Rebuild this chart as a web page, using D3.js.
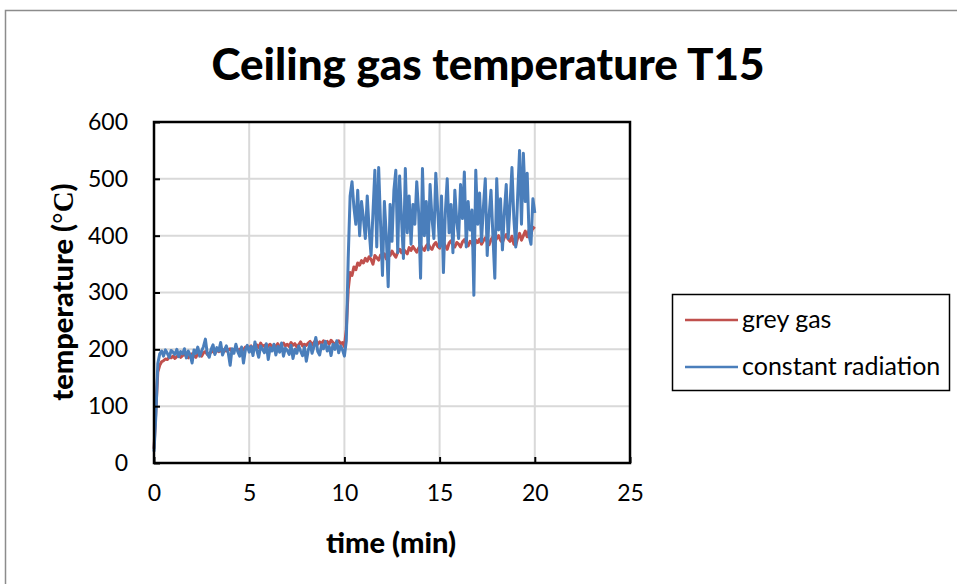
<!DOCTYPE html>
<html>
<head>
<meta charset="utf-8">
<script src="https://cdn.jsdelivr.net/npm/d3@7"></script>
<style>
  body { margin: 0; background: #fff; }
  svg { display: block; font-family: Lato, "Open Sans", sans-serif; }
</style>
</head>
<body>
<div id="chart"></div>
<script>
// sampled every 0.1 min, values in °C
const timeStep = 0.1;
const xTicks = [0, 5, 10, 15, 20, 25];
const yTicks = [0, 100, 200, 300, 400, 500, 600];
const seriesNames = ["grey gas", "constant radiation"];

const greyGas = [
  25, 95, 160, 172, 178, 180, 183, 182, 186, 185,
  188, 184, 187, 190, 186, 189, 191, 188, 185, 190,
  192, 189, 186, 193, 190, 188, 194, 196, 191, 193,
  195, 197, 193, 199, 196, 198, 195, 200, 197, 199,
  201, 196, 199, 203, 198, 200, 202, 199, 204, 201,
  203, 206, 200, 204, 208, 203, 211, 205, 207, 202,
  206, 209, 204, 207, 205, 210, 203, 208, 211, 206,
  209, 205, 212, 207, 210, 204, 208, 213, 206, 209,
  207, 211, 214, 208, 212, 216, 209, 213, 210, 215,
  211, 214, 209, 216, 212, 208, 213, 215, 210, 212,
  205, 235, 305, 335, 330, 345, 340, 352, 348, 356,
  352, 360, 355, 363, 358, 350, 365, 361, 357, 366,
  362, 368, 359, 370, 365, 373, 367, 362, 371, 376,
  370, 377, 372, 368, 379, 374, 381, 376, 371, 378,
  383, 377, 374, 382, 386, 379, 376, 384, 388, 381,
  378, 385, 389, 382, 376, 387, 391, 384, 380, 388,
  385, 380, 389, 393, 386, 382, 390, 387, 378, 392,
  388, 394, 385, 391, 396, 389, 384, 393, 398, 390,
  395, 400, 392, 388, 397, 402, 394, 390, 399, 385,
  383, 396, 404, 392, 400, 408, 398, 410, 403, 415,
  412
];

const constantRadiation = [
  20, 85, 175, 192, 197, 188, 199, 193, 186, 198,
  195, 191, 200, 187, 196, 192, 201, 185, 197, 190,
  176, 199, 193, 204, 188, 197, 205, 218, 192, 186,
  200, 208, 191, 203, 197, 212, 190, 199, 206, 194,
  172, 201, 193, 209, 196, 188, 204, 176, 199, 207,
  195, 205, 189, 213, 198, 186, 206, 200, 194, 210,
  182, 203, 197, 209, 190, 205, 195, 211, 188, 202,
  198, 191, 207, 184, 200, 193, 206, 197, 189, 204,
  179, 198, 210, 193, 205, 221, 196, 190, 208, 201,
  214, 197, 205, 189, 209, 200, 215, 194, 206, 199,
  188, 215, 360, 470, 495, 450, 420, 480, 400, 460,
  430, 395, 470, 410, 365, 440, 515, 380, 520, 420,
  330, 460, 400, 310, 455, 390, 480, 515, 370, 505,
  430, 360, 518, 405, 470, 385, 455, 420, 495, 440,
  325, 518, 400, 460, 375, 490, 430, 395, 510, 445,
  380, 470, 335, 440, 500, 405, 455, 370, 480, 425,
  395, 490, 430, 512, 380, 460, 410, 445, 295, 515,
  420, 475, 390, 450, 500, 365, 435, 480, 400, 325,
  500, 410, 465, 375, 440, 490, 395, 455, 520, 430,
  380, 470, 550, 420, 545, 460, 510, 400, 385, 465,
  440
];

const width = 957, height = 584;
const plot = { left: 154, top: 122, right: 630, bottom: 463 };
const colors = ["#c0504d", "#4a7ebb"];

const svg = d3.select("#chart").append("svg")
  .attr("width", width)
  .attr("height", height);

// outer chart frame (runs off the right and bottom edge)
svg.append("rect")
  .attr("x", 5.5).attr("y", 10.5)
  .attr("width", 1000).attr("height", 1000)
  .attr("fill", "none")
  .attr("stroke", "#8c8c8c")
  .attr("stroke-width", 1.5);

const x = d3.scaleLinear().domain([0, 25]).range([plot.left, plot.right]);
const y = d3.scaleLinear().domain([0, 600]).range([plot.bottom, plot.top]);

// gridlines
svg.append("g").selectAll("line")
  .data(yTicks.slice(1, -1))
  .enter().append("line")
  .attr("x1", plot.left).attr("x2", plot.right)
  .attr("y1", d => y(d)).attr("y2", d => y(d))
  .attr("stroke", "#d9d9d9").attr("stroke-width", 2);

svg.append("g").selectAll("line")
  .data(xTicks.slice(1, -1))
  .enter().append("line")
  .attr("y1", plot.top).attr("y2", plot.bottom)
  .attr("x1", d => x(d)).attr("x2", d => x(d))
  .attr("stroke", "#d9d9d9").attr("stroke-width", 2);

// series
const line = d3.line()
  .x((d, i) => x(i * timeStep))
  .y(d => y(d));

[greyGas, constantRadiation].forEach((s, k) => {
  svg.append("path")
    .datum(s)
    .attr("d", line)
    .attr("fill", "none")
    .attr("stroke", colors[k])
    .attr("stroke-width", 3)
    .attr("stroke-linejoin", "round");
});

// axes (ticks point inward)
const xAxis = svg.append("g")
  .attr("transform", `translate(0,${plot.bottom})`)
  .call(d3.axisBottom(x).tickValues(xTicks).tickSize(-6).tickPadding(22));
const yAxis = svg.append("g")
  .attr("transform", `translate(${plot.left},0)`)
  .call(d3.axisLeft(y).tickValues(yTicks).tickSize(-6).tickPadding(26));

[xAxis, yAxis].forEach(g => {
  g.select(".domain").remove();
  g.selectAll(".tick line").attr("stroke", "#000").attr("stroke-width", 2);
  g.selectAll(".tick text")
    .attr("fill", "#000")
    .style("font-family", "Lato, sans-serif")
    .style("font-size", "23px");
});

// plot frame
svg.append("rect")
  .attr("x", plot.left).attr("y", plot.top)
  .attr("width", plot.right - plot.left)
  .attr("height", plot.bottom - plot.top)
  .attr("fill", "none")
  .attr("stroke", "#000")
  .attr("stroke-width", 2.5);

// title
svg.append("text")
  .attr("x", 488).attr("y", 80)
  .attr("text-anchor", "middle")
  .style("font-size", "44px")
  .style("font-weight", "900")
  .text("Ceiling gas temperature T15");

// axis titles
svg.append("text")
  .attr("x", 391).attr("y", 553)
  .attr("text-anchor", "middle")
  .style("font-size", "29px")
  .style("font-weight", "900")
  .text("time (min)");

const yTitle = svg.append("text")
  .attr("transform", "translate(73,292) rotate(-90)")
  .attr("text-anchor", "middle")
  .style("font-size", "29px")
  .style("font-weight", "900");
yTitle.append("tspan").text("temperature (");
yTitle.append("tspan").style("font-family", "Liberation Serif, serif").style("font-weight", "bold").text("°C");
yTitle.append("tspan").text(")");

// legend
const legend = svg.append("g");
legend.append("rect")
  .attr("x", 672.5).attr("y", 294.5)
  .attr("width", 277).attr("height", 96)
  .attr("fill", "#fff")
  .attr("stroke", "#000")
  .attr("stroke-width", 1.5);

seriesNames.forEach((name, i) => {
  const ly = 320 + i * 47;
  legend.append("line")
    .attr("x1", 685).attr("x2", 738)
    .attr("y1", ly).attr("y2", ly)
    .attr("stroke", colors[i])
    .attr("stroke-width", 2.5);
  legend.append("text")
    .attr("x", 742).attr("y", ly + 8)
    .style("font-size", "25px")
    .text(name);
});
</script>
</body>
</html>
